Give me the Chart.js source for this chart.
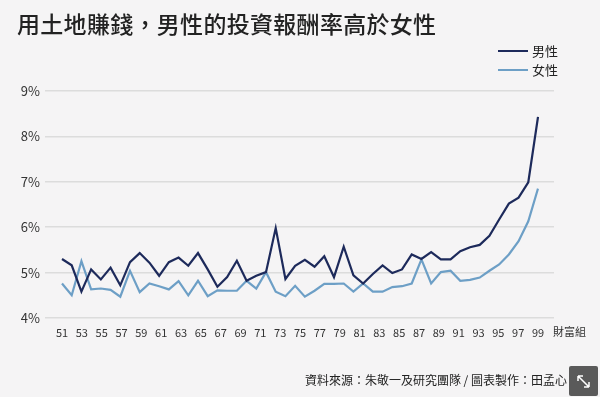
<!DOCTYPE html>
<html>
<head>
<meta charset="utf-8">
<script src="https://cdn.jsdelivr.net/npm/chart.js@4.4.1/dist/chart.umd.min.js"></script>
<style>
  html, body { margin: 0; padding: 0; }
  body {
    width: 600px; height: 397px; position: relative; overflow: hidden;
    background: #f5f4f5; color: #222;
    font-family: "Noto Sans CJK TC", "Noto Sans", sans-serif;
  }
  #title { position: absolute; left: 17px; top: 6px; font-size: 23px; font-weight: 500; letter-spacing: 0.3px; }
  #legend { position: absolute; left: 498px; top: 41px; font-size: 13px; line-height: 19px; }
  #legend .item { display: flex; align-items: center; }
  #legend .swatch { width: 30px; height: 2px; margin-right: 4px; }
  #source { position: absolute; right: 33px; top: 371px; font-size: 12px; }
  #expand { position: absolute; left: 569px; top: 366px; width: 29px; height: 30px; background: #5a5a5a; border-radius: 2px; }
  #wrap { position: absolute; left: 0; top: 0; width: 600px; height: 397px; }
</style>
</head>
<body>
<div id="wrap"><canvas id="myChart" width="600" height="397"></canvas></div>
<div id="title">用土地賺錢，男性的投資報酬率高於女性</div>
<div id="legend"></div>
<div id="source">資料來源：朱敬一及研究團隊 / 圖表製作：田孟心</div>
<div id="expand">
  <svg width="29" height="30" viewBox="0 0 29 30">
    <path d="M9 10 L20 21 M9 10 L9 15 M9 10 L14 10 M20 21 L20 16 M20 21 L15 21" stroke="#fff" stroke-width="1.5" fill="none"/>
  </svg>
</div>
<script>
// wealth groups (percentile)
var groups = [51, 52, 53, 54, 55, 56, 57, 58, 59, 60,
              61, 62, 63, 64, 65, 66, 67, 68, 69, 70,
              71, 72, 73, 74, 75, 76, 77, 78, 79, 80,
              81, 82, 83, 84, 85, 86, 87, 88, 89, 90,
              91, 92, 93, 94, 95, 96, 97, 98, 99, 100]
var tickLabels = ['51', '53', '55', '57', '59', '61', '63', '65', '67', '69', '71', '73', '75',
                  '77', '79', '81', '83', '85', '87', '89', '91', '93', '95', '97', '99']
// return on land, %
var men = [5.30, 5.16, 4.58, 5.07, 4.85, 5.11, 4.72, 5.23, 5.43, 5.22,
           4.93, 5.23, 5.33, 5.15, 5.43, 5.07, 4.69, 4.90, 5.26, 4.82,
           4.93, 5.01, 5.98, 4.86, 5.15, 5.28, 5.13, 5.36, 4.90, 5.57,
           4.94, 4.76, 4.97, 5.16, 4.99, 5.07, 5.40, 5.30, 5.45, 5.29,
           5.29, 5.47, 5.56, 5.61, 5.81, 6.17, 6.52, 6.65, 6.99, 8.43]
var women = [4.76, 4.50, 5.25, 4.63, 4.65, 4.62, 4.47, 5.04, 4.57, 4.76,
             4.70, 4.63, 4.81, 4.50, 4.82, 4.48, 4.61, 4.60, 4.60, 4.82,
             4.65, 5.01, 4.58, 4.48, 4.71, 4.47, 4.60, 4.75, 4.75, 4.76,
             4.58, 4.76, 4.58, 4.58, 4.68, 4.70, 4.76, 5.29, 4.76, 5.01,
             5.04, 4.82, 4.84, 4.89, 5.04, 5.18, 5.40, 5.69, 6.13, 6.85]

var menColor = '#1d2a5b'
var womenColor = '#6d9fc6'
var gridColor = '#dcdcdc'

Chart.defaults.font.family = '"Noto Sans CJK TC", "Noto Sans", sans-serif'
Chart.defaults.color = '#333'

// "財富組" after the last tick label
const unitLabel = {
    id: 'unitLabel',
    afterDraw(chart) {
        const ctx = chart.ctx
        const xl = chart.scales.xl
        ctx.save()
        ctx.font = '11px "Noto Sans CJK TC"'
        ctx.fillStyle = '#333'
        ctx.textBaseline = 'top'
        ctx.fillText('財富組', chart.chartArea.right + 15, xl.top + 8)
        ctx.restore()
    }
}

const config = {
    type: 'line',
    data: {
        labels: groups,
        datasets: [{
            label: '男性',
            data: men,
            borderColor: menColor,
            borderWidth: 2.2,
            pointRadius: 0,
            tension: 0
        }, {
            label: '女性',
            data: women,
            borderColor: womenColor,
            borderWidth: 2.2,
            pointRadius: 0,
            tension: 0
        }]
    },
    options: {
        responsive: false,
        animation: false,
        layout: { padding: { top: 91, right: 46, bottom: 48, left: 0 } },
        plugins: { legend: { display: false }, tooltip: { enabled: false } },
        scales: {
            x: { type: 'category', display: false, offset: false },
            xl: {
                type: 'category',
                labels: tickLabels,
                position: 'bottom',
                offset: false,
                grid: { display: false, drawTicks: false },
                border: { display: false },
                ticks: { font: { size: 11 }, padding: 8, maxRotation: 0, autoSkip: false },
                afterFit: (s) => { s.height = 31 }
            },
            y: {
                position: 'left',
                min: 4,
                max: 9,
                ticks: { stepSize: 1, font: { size: 13 }, padding: 5, callback: (v) => v + '%' },
                grid: { color: gridColor, lineWidth: 1.5, drawTicks: true, tickLength: 17 },
                border: { display: false },
                afterFit: (s) => { s.width = 62 }
            },
            y2: {
                position: 'right',
                min: 4,
                max: 9,
                ticks: { stepSize: 1, display: false },
                grid: { color: gridColor, lineWidth: 1.5, drawOnChartArea: false, drawTicks: true, tickLength: 16 },
                border: { display: false },
                afterFit: (s) => { s.width = 16 }
            }
        }
    },
    plugins: [unitLabel]
}

const myChart = new Chart(document.getElementById('myChart'), config)

// legend, stacked
var legend = document.getElementById('legend')
myChart.data.datasets.forEach((ds) => {
    var item = document.createElement('div')
    item.className = 'item'
    var sw = document.createElement('span')
    sw.className = 'swatch'
    sw.style.background = ds.borderColor
    var txt = document.createElement('span')
    txt.textContent = ds.label
    item.appendChild(sw)
    item.appendChild(txt)
    legend.appendChild(item)
})
</script>
</body>
</html>
